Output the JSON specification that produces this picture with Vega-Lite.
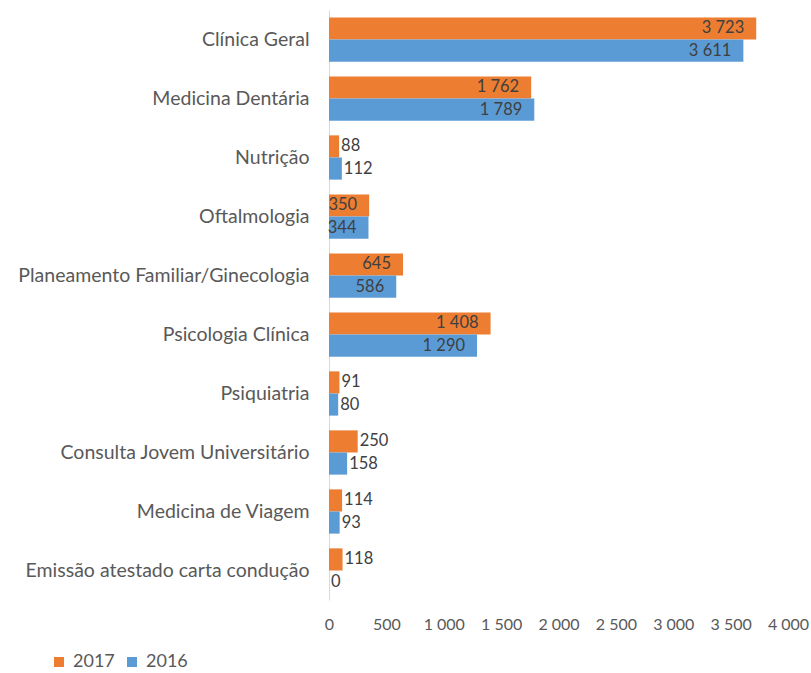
{
  "$schema": "https://vega.github.io/schema/vega-lite/v6.json",
  "autosize": {"type": "none"},
  "width": 459,
  "height": 590,
  "padding": {"left": 329, "top": 10, "right": 23, "bottom": 73},
  "background": "white",
  "config": {
    "locale": {"number": {"decimal": ",", "thousands": " ", "grouping": [3], "currency": ["", " €"]}},
    "font": "Lato",
    "view": {"stroke": null}
  },
  "data": {
    "values": [
      {"category": "Clínica Geral", "year": "2017", "value": 3723},
      {"category": "Clínica Geral", "year": "2016", "value": 3611},
      {"category": "Medicina Dentária", "year": "2017", "value": 1762},
      {"category": "Medicina Dentária", "year": "2016", "value": 1789},
      {"category": "Nutrição", "year": "2017", "value": 88},
      {"category": "Nutrição", "year": "2016", "value": 112},
      {"category": "Oftalmologia", "year": "2017", "value": 350},
      {"category": "Oftalmologia", "year": "2016", "value": 344},
      {"category": "Planeamento Familiar/Ginecologia", "year": "2017", "value": 645},
      {"category": "Planeamento Familiar/Ginecologia", "year": "2016", "value": 586},
      {"category": "Psicologia Clínica", "year": "2017", "value": 1408},
      {"category": "Psicologia Clínica", "year": "2016", "value": 1290},
      {"category": "Psiquiatria", "year": "2017", "value": 91},
      {"category": "Psiquiatria", "year": "2016", "value": 80},
      {"category": "Consulta Jovem Universitário", "year": "2017", "value": 250},
      {"category": "Consulta Jovem Universitário", "year": "2016", "value": 158},
      {"category": "Medicina de Viagem", "year": "2017", "value": 114},
      {"category": "Medicina de Viagem", "year": "2016", "value": 93},
      {"category": "Emissão atestado carta condução", "year": "2017", "value": 118},
      {"category": "Emissão atestado carta condução", "year": "2016", "value": 0}
    ]
  },
  "encoding": {
    "y": {
      "field": "category", "type": "nominal", "sort": null,
      "scale": {"paddingInner": 0.25, "paddingOuter": 0.125},
      "axis": {"title": null, "ticks": false, "labelPadding": 20, "labelFontSize": 19.5, "labelLimit": 400, "labelColor": "#595959", "domainColor": "#d9d9d9"}
    },
    "yOffset": {"field": "year", "type": "nominal", "sort": ["2017", "2016"]},
    "x": {
      "field": "value", "type": "quantitative",
      "scale": {"domain": [0, 4000], "nice": false},
      "axis": {"title": null, "grid": false, "domain": false, "ticks": false, "values": [0,500,1000,1500,2000,2500,3000,3500,4000], "labelOverlap": false, "labelFlush": false, "format": ",d", "labelPadding": 16, "labelFontSize": 16, "labelColor": "#595959"}
    }
  },
  "layer": [
    {
      "mark": {"type": "bar"},
      "encoding": {
        "color": {
          "field": "year", "type": "nominal",
          "scale": {"domain": ["2017", "2016"], "range": ["#ED7D31", "#5B9BD5"]},
          "legend": {"title": null, "orient": "none", "direction": "horizontal", "legendX": -279, "legendY": 643, "symbolType": "square", "symbolSize": 100, "symbolStrokeWidth": 0, "labelFontSize": 18, "labelOffset": 5, "labelColor": "#595959", "columnPadding": 8}
        }
      }
    },
    {
      "transform": [{"filter": "datum.value >= 300"}],
      "mark": {"type": "text", "align": "right", "baseline": "middle", "dx": -12, "fontSize": 16.5, "color": "#404040"},
      "encoding": {"text": {"field": "value", "type": "quantitative", "format": ",d"}}
    },
    {
      "transform": [{"filter": "datum.value < 300"}],
      "mark": {"type": "text", "align": "left", "baseline": "middle", "dx": 2, "fontSize": 16.5, "color": "#404040"},
      "encoding": {"text": {"field": "value", "type": "quantitative", "format": ",d"}}
    }
  ]
}
